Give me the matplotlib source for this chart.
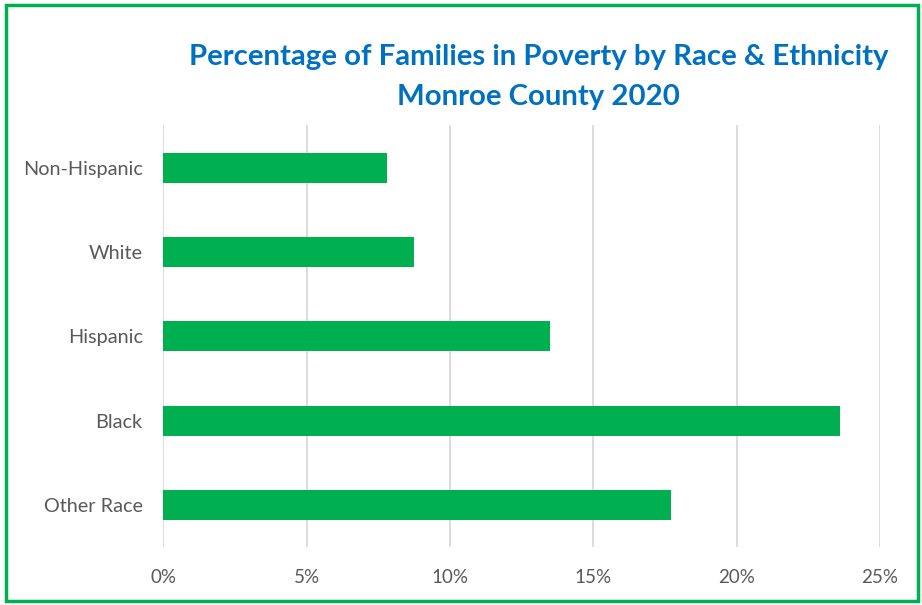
import matplotlib
matplotlib.use("Agg")
import matplotlib.pyplot as plt
from matplotlib.patches import Rectangle
from matplotlib.ticker import FuncFormatter

categories = ["Non-Hispanic", "White", "Hispanic", "Black", "Other Race"]
values = [7.8, 8.75, 13.5, 23.6, 17.7]
xticks = [0, 5, 10, 15, 20, 25]

GREEN = "#00B050"
BLUE = "#0070C0"
GRAY = "#595959"
FONT = "Lato"

fig = plt.figure(figsize=(9.22, 6.05), dpi=100)
ax = fig.add_axes([0.1773, 0.0955, 0.7771, 0.6971])

ypos = list(range(len(categories)))
ax.barh(ypos, values, height=0.355, color=GREEN, zorder=3)
ax.set_ylim(len(categories) - 0.5, -0.5)
ax.set_xlim(0, 25)
ax.set_xticks(xticks)
ax.xaxis.set_major_formatter(FuncFormatter(lambda v, p: f"{int(v)}%"))
ax.set_yticks(ypos)
ax.set_yticklabels(categories)
for s in ax.spines.values():
    s.set_visible(False)
ax.grid(axis="x", color="#D9D9D9", linewidth=1.3, zorder=0)
ax.tick_params(axis="both", length=0, labelcolor=GRAY)
ax.tick_params(axis="y", pad=15, labelsize=14.3)
ax.tick_params(axis="x", pad=16, labelsize=13.5)
for lab in ax.get_xticklabels() + ax.get_yticklabels():
    lab.set_fontfamily(FONT)

fig.text(0.584, 0.905, "Percentage of Families in Poverty by Race & Ethnicity",
         ha="center", va="center", color=BLUE, fontsize=21.2, fontweight="bold", family=FONT)
fig.text(0.584, 0.840, "Monroe County 2020",
         ha="center", va="center", color=BLUE, fontsize=21.2, fontweight="bold", family=FONT)

fig.patches.append(Rectangle((5.5 / 922, 4.5 / 605), 912 / 922, 596 / 605,
                             transform=fig.transFigure, fill=False,
                             edgecolor=GREEN, linewidth=2.5))

fig.savefig("out.png", dpi=100)
